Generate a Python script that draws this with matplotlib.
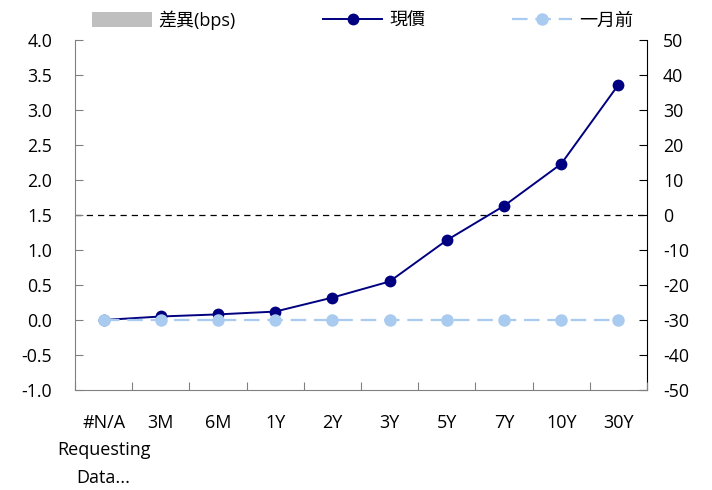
import matplotlib
matplotlib.use("Agg")
import matplotlib.pyplot as plt
from matplotlib.patches import Patch
from matplotlib.lines import Line2D
import numpy as np

plt.rcParams['font.family'] = ['Open Sans', 'Noto Sans CJK TC', 'DejaVu Sans']

tenors = ["#N/A\nRequesting\nData...", "3M", "6M", "1Y", "2Y", "3Y", "5Y", "7Y", "10Y", "30Y"]
current = [0.00, 0.05, 0.08, 0.12, 0.32, 0.55, 1.14, 1.63, 2.23, 3.36]
month_ago = [0.00, 0.00, 0.00, 0.00, 0.00, 0.00, 0.00, 0.00, 0.00, 0.00]
diff_bps = [0, 0, 0, 0, 0, 0, 0, 0, 0, 0]

left_ticks = [-1.0, -0.5, 0.0, 0.5, 1.0, 1.5, 2.0, 2.5, 3.0, 3.5, 4.0]
right_ticks = [-50, -40, -30, -20, -10, 0, 10, 20, 30, 40, 50]

navy = "#000080"
light = "#a9cbef"
gray = "#bfbfbf"

fig = plt.figure(figsize=(7.12, 4.9), dpi=100)
ax = fig.add_axes([0.1053, 0.2041, 0.8034, 0.7143])
ax2 = ax.twinx()

x = np.arange(len(tenors))

# bars on the secondary (bps) axis
ax2.bar(x, diff_bps, width=0.5, color=gray, linewidth=0, zorder=1)
ax2.axhline(0, color="black", linestyle=(0, (5, 4)), linewidth=0.9, zorder=2)
ax2.set_ylim(-50, 50)
ax2.set_yticks(right_ticks)
ax2.set_yticklabels([str(v) for v in right_ticks])

ax.set_zorder(ax2.get_zorder() + 1)
ax.patch.set_visible(False)

ax.plot(x, current, color=navy, linewidth=1.4, marker="o", markersize=8.5,
        markeredgewidth=0, zorder=3)
ax.plot(x, month_ago, color=light, linewidth=1.6, linestyle=(0, (7, 3.5)),
        marker="o", markersize=9, markeredgewidth=0, zorder=4)

ax.set_xlim(-0.5, len(tenors) - 0.5)
ax.set_ylim(-1.0, 4.0)
ax.set_yticks(left_ticks)
ax.set_yticklabels([f"{v:.1f}" for v in left_ticks])

# first line of each category as the tick label; extra lines set underneath
first_lines = [t.split("\n", 1)[0] for t in tenors]
ax.set_xticks(x)
ax.set_xticklabels(first_lines)
ax.set_xticks(np.arange(len(tenors) + 1) - 0.5, minor=True)
for xi, t in zip(x, tenors):
    if "\n" in t:
        ax.annotate(t.split("\n", 1)[1], xy=(xi, 0), xycoords=("data", "axes fraction"),
                    xytext=(0, -53), textcoords="offset points", ha="center", va="center",
                    fontsize=13, linespacing=1.7, annotation_clip=False)

for a in (ax, ax2):
    a.spines["top"].set_visible(False)
    a.tick_params(axis="y", labelsize=12.8, direction="in", length=6, width=0.8)

ax.tick_params(axis="y", pad=16.5, color="#808080")
ax2.tick_params(axis="y", pad=11.5)

ax.spines["right"].set_visible(False)
ax.spines["left"].set_color("#808080")
ax.spines["bottom"].set_color("#808080")
ax2.spines["left"].set_visible(False)
ax2.spines["bottom"].set_visible(False)
ax2.spines["right"].set_color("black")

ax.tick_params(axis="x", which="major", length=0, labelsize=13, pad=17)
ax.tick_params(axis="x", which="minor", direction="in", length=6, width=0.8, color="#808080")

handles = [
    Patch(facecolor=gray, edgecolor="none"),
    Line2D([], [], color=navy, linewidth=1.4, marker="o", markersize=8.5, markeredgewidth=0),
    Line2D([], [], color=light, linewidth=1.6, linestyle=(0, (7, 3.5)), marker="o",
           markersize=9, markeredgewidth=0),
]
fig.legend(handles, ["差異(bps)", "現價", "一月前"], loc="center left",
           bbox_to_anchor=(92 / 712, 0.959), borderaxespad=0, borderpad=0,
           ncol=3, frameon=False, fontsize=13, handlelength=3.3, handleheight=0.95,
           columnspacing=4.8, handletextpad=0.4)

fig.savefig("out.png", dpi=100)
